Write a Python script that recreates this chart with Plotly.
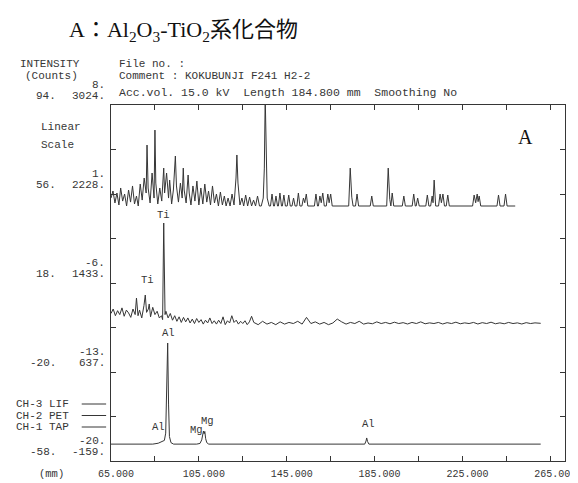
import plotly.graph_objects as go

# ------------------------------------------------------------------ data
# x: spectrometer position (mm), y: intensity on the common plotted count scale
LIF_TRACE = [  # CH-3 LIF (top)
    (65.0, 2192), (65.9, 2255), (66.8, 2148), (67.7, 2237), (68.6, 2130), (69.4, 2282),
    (70.3, 2165), (71.2, 2228), (72.1, 2121), (73.0, 2264), (73.9, 2156), (74.8, 2300),
    (75.7, 2139), (76.6, 2210), (77.4, 2121), (78.3, 2317), (79.2, 2174), (80.1, 2371),
    (81.0, 2237), (81.4, 2666), (81.9, 2282), (82.8, 2148), (83.7, 2416), (84.6, 2192),
    (85.0, 2800), (85.4, 2326), (86.3, 2139), (87.2, 2282), (88.1, 2165), (89.0, 2460),
    (89.4, 2237), (90.3, 2416), (91.2, 2192), (91.7, 2353), (92.6, 2139), (93.4, 2264),
    (94.3, 2568), (94.8, 2300), (95.7, 2156), (96.6, 2326), (97.4, 2192), (97.9, 2460),
    (98.3, 2264), (99.2, 2148), (100.1, 2398), (100.6, 2237), (101.4, 2130), (102.3, 2300),
    (103.2, 2165), (104.1, 2344), (105.0, 2130), (105.9, 2282), (106.8, 2139), (107.7, 2317),
    (108.6, 2156), (109.4, 2255), (110.3, 2130), (111.2, 2300), (112.1, 2148), (113.0, 2228),
    (113.9, 2121), (114.8, 2246), (115.7, 2130), (116.6, 2210), (117.4, 2121), (118.3, 2192),
    (119.2, 2121), (120.1, 2228), (121.0, 2130), (121.9, 2371), (122.3, 2577), (122.8, 2326),
    (123.7, 2130), (124.6, 2192), (125.4, 2121), (126.3, 2219), (127.2, 2121), (128.1, 2201),
    (129.0, 2121), (129.9, 2174), (130.8, 2121), (131.7, 2210), (132.6, 2121), (133.4, 2121),
    (134.3, 2192), (134.8, 2460), (135.2, 3100), (135.7, 2460), (136.1, 2192), (137.0, 2121),
    (137.6, 2121), (138.3, 2228), (139.0, 2121), (139.4, 2121), (140.1, 2210), (140.8, 2121),
    (141.2, 2121), (141.9, 2237), (142.6, 2121), (143.0, 2121), (143.7, 2219), (144.4, 2121),
    (145.2, 2121), (145.9, 2219), (146.6, 2121), (147.4, 2121), (148.1, 2192), (148.8, 2121),
    (149.6, 2121), (150.3, 2237), (151.0, 2121), (151.9, 2121), (152.6, 2192), (153.2, 2150),
    (153.9, 2228), (154.6, 2121), (157.6, 2121), (158.3, 2228), (159.0, 2121), (159.4, 2121),
    (160.1, 2210), (160.7, 2150), (161.4, 2237), (162.1, 2121), (163.0, 2121), (163.7, 2228),
    (164.3, 2150), (165.0, 2228), (165.7, 2121), (173.2, 2121), (173.9, 2460), (174.6, 2200),
    (175.2, 2121), (176.3, 2121), (177.0, 2228), (177.7, 2121), (183.0, 2121), (183.7, 2210),
    (184.4, 2121), (190.5, 2121), (191.2, 2460), (191.9, 2180), (192.4, 2121), (193.0, 2237),
    (193.7, 2121), (197.6, 2121), (198.3, 2210), (199.0, 2121), (202.1, 2121), (202.8, 2228),
    (203.5, 2121), (203.9, 2121), (204.6, 2192), (205.3, 2121), (208.3, 2121), (209.0, 2219),
    (209.7, 2121), (210.5, 2121), (211.2, 2210), (211.6, 2150), (212.1, 2353), (212.8, 2121),
    (214.1, 2121), (214.8, 2228), (215.4, 2150), (216.1, 2228), (216.8, 2121), (217.6, 2121),
    (218.3, 2219), (219.0, 2121), (229.6, 2121), (230.3, 2219), (231.0, 2150), (231.7, 2228),
    (232.1, 2160), (232.6, 2210), (233.3, 2121), (240.7, 2121), (241.4, 2219), (242.1, 2121),
    (243.9, 2121), (244.6, 2228), (245.3, 2121), (249.0, 2121),
]

PET_TRACE = [  # CH-2 PET (middle)
    (65, 1160), (66, 1200), (67, 1140), (68, 1185), (69, 1150), (70, 1210), (71, 1135),
    (72, 1190), (73, 1165), (74, 1125), (75, 1200), (76, 1150), (76.6, 1298), (77.3, 1140),
    (78, 1190), (79, 1120), (80, 1230), (80.6, 1325), (81.2, 1170), (82, 1200), (82.4, 1245),
    (83, 1130), (84, 1215), (85, 1150), (86, 1180), (87, 1120), (88, 1140), (88.5, 1105),
    (89.0, 1969), (89.6, 1150), (90, 1180), (91, 1120), (92, 1160), (93, 1100), (94, 1140),
    (95, 1090), (96, 1130), (97, 1080), (98, 1125), (99, 1085), (100, 1120), (101, 1075),
    (102, 1110), (103, 1070), (104, 1115), (105, 1080), (106, 1105), (107, 1065), (108, 1100),
    (109, 1075), (110, 1120), (111, 1070), (112, 1095), (113, 1065), (114, 1100), (115, 1070),
    (116, 1130), (117, 1060), (118, 1095), (119, 1075), (120, 1140), (121, 1080), (122, 1100),
    (123, 1065), (124, 1090), (125, 1070), (126, 1095), (127, 1060), (128, 1085), (129, 1135),
    (130, 1080), (132, 1060), (134, 1090), (136, 1065), (138, 1080), (140, 1060), (142, 1085),
    (144, 1065), (146, 1080), (148, 1070), (150, 1090), (152, 1065), (154, 1125), (156, 1070),
    (158, 1085), (160, 1065), (162, 1080), (164, 1060), (166, 1075), (168, 1110), (170, 1085),
    (172, 1065), (174, 1080), (176, 1070), (178, 1090), (180, 1065), (182, 1075), (184, 1068),
    (186, 1085), (188, 1070), (190, 1080), (192, 1068), (194, 1082), (196, 1070), (198, 1078),
    (200, 1066), (202, 1080), (204, 1070), (206, 1085), (208, 1068), (210, 1076), (212, 1070),
    (214, 1080), (216, 1066), (218, 1078), (220, 1070), (222, 1082), (224, 1068), (226, 1076),
    (228, 1070), (230, 1080), (232, 1066), (234, 1078), (236, 1070), (238, 1082), (240, 1068),
    (242, 1076), (244, 1068), (246, 1080), (248, 1070), (250, 1076), (252, 1066), (254, 1078),
    (256, 1070), (258, 1076), (260, 1070), (260.6, 1072),
]

TAP_TRACE = [  # CH-1 TAP (bottom)
    (65.0, -8), (75.0, -8), (84.0, -8), (86.5, 0), (87.8, 12), (88.6, 20), (89.3, 25),
    (89.9, 90), (90.3, 400), (90.8, 896), (91.2, 350), (91.6, 60), (92.3, 5), (93.5, -8),
    (104.0, -8), (105.5, -2), (106.3, 30), (106.8, 80), (107.1, 109), (107.4, 85),
    (107.7, 105), (108.1, 40), (108.6, 5), (109.5, -8), (180.5, -8), (181.1, 20),
    (181.4, 47), (181.8, 15), (182.4, -8), (260.6, -8),
]

PEAK_NAMES = ["Ti", "Ti", "Al", "Al", "Mg", "Mg", "Al"]
PEAK_LABEL_MM = [81.4, 89.0, 91.2, 86.8, 104.1, 109.0, 182.3]
PEAK_LABEL_CPS = [1459, 2040, 985, 145, 118, 199, 172]

X_TICK_VALS = [65, 105, 145, 185, 225, 265]
X_TICK_TEXT = ["65.000", "105.000", "145.000", "185.000", "225.000", "265.000"]
Y_BOTTOM, Y_TOP = -159, 3024
Y_LABEL_VALS = [3024, 2228.25, 1432.5, 636.75, -159]
Y_COL_RIGHT = ["3024.", "2228.", "1433.", "637.", "-159."]
Y_COL_MID = ["94.", "56.", "18.", "-20.", "-58."]
Y_COL_TOP = ["8.", "1.", "-6.", "-13.", "-20."]
CHANNELS = ["CH-3 LIF", "CH-2 PET", "CH-1 TAP"]

# ------------------------------------------------------------------ figure
L, R, T, B = 103, 568, 97, 453


def xp(px):
    return (px - L) / (R - L)


def yp(py):
    return (B - py) / (B - T)


MONO = "Liberation Mono, DejaVu Sans Mono, monospace"
SERIF = "Liberation Serif, Noto Sans CJK JP, serif"
INK = "#363636"

fig = go.Figure()
for pts in (LIF_TRACE, PET_TRACE, TAP_TRACE):
    fig.add_trace(go.Scatter(
        x=[p[0] for p in pts], y=[p[1] for p in pts], mode="lines",
        line=dict(color=INK, width=1), hoverinfo="skip", showlegend=False))

x_span = (R - L) / 2.25  # mm shown across the frame
fig.update_layout(
    width=578, height=483,
    margin=dict(l=L, r=578 - R, t=T, b=483 - B),
    paper_bgcolor="white", plot_bgcolor="white", showlegend=False,
    xaxis=dict(
        range=[65, 65 + x_span], showgrid=False, zeroline=False,
        showline=True, linecolor=INK, linewidth=1.2, mirror="allticks",
        tickmode="array", tickvals=X_TICK_VALS, ticktext=X_TICK_TEXT,
        ticks="inside", ticklen=5, tickcolor=INK, ticklabelstandoff=3,
        ticklabelshift=5, ticklabeloverflow="allow",
        tickfont=dict(family=MONO, size=10, color=INK),
        minor=dict(tick0=65, dtick=20, ticks="inside", ticklen=5, tickcolor=INK),
    ),
    yaxis=dict(
        range=[Y_BOTTOM, Y_TOP], showgrid=False, zeroline=False,
        showline=True, linecolor=INK, linewidth=1.2, mirror="allticks",
        tick0=Y_BOTTOM, dtick=(Y_TOP - Y_BOTTOM) / 8,
        ticks="inside", ticklen=5, tickcolor=INK, showticklabels=False,
    ),
)

ann = []


def text(x, y, s, anchor="left", size=11, font=MONO, color=INK, xref="paper", yref="paper", yshift=0):
    ann.append(dict(x=x, y=y, xref=xref, yref=yref, text=s, showarrow=False,
                    xanchor=anchor, yanchor="middle", yshift=yshift, borderpad=0,
                    font=dict(family=font, size=size, color=color)))


# title
text(xp(177), yp(23), "A：Al<sub>2</sub>O<sub>3</sub>-TiO<sub>2</sub>系化合物",
     anchor="center", size=22, font=SERIF, color="#111")
text(xp(528), yp(129), "A", anchor="center", size=20, font=SERIF, color="#111")

# header
text(xp(41), yp(56), "INTENSITY", anchor="center")
text(xp(42), yp(68), "(Counts)", anchor="center")
text(xp(110), yp(56), "File no. :")
text(xp(110), yp(68), "Comment : KOKUBUNJI F241 H2-2")
text(xp(110), yp(84), "Acc.vol. 15.0 kV  Length 184.800 mm  Smoothing No", size=11.5)
text(xp(30), yp(119), "Linear")
text(xp(30), yp(137), "Scale")

# y labels
for v, a, b, c in zip(Y_LABEL_VALS, Y_COL_TOP, Y_COL_MID, Y_COL_RIGHT):
    text(xp(98), v, c, anchor="right", yref="y", yshift=9, size=11)
    text(xp(48), v, b, anchor="right", yref="y", yshift=9, size=11)
    text(xp(98), v, a, anchor="right", yref="y", yshift=20, size=11)

# x unit
text(xp(42), yp(466), "(mm)", anchor="center", size=10.5)

# channel legend
for i, ch in enumerate(CHANNELS):
    yy = 396 + 11.5 * i
    text(xp(5), yp(yy), ch, size=11)
    fig.add_shape(type="line", xref="paper", yref="paper",
                  x0=xp(73), x1=xp(98), y0=yp(yy), y1=yp(yy),
                  line=dict(color=INK, width=1))

# peak labels
for nm, mx, cy in zip(PEAK_NAMES, PEAK_LABEL_MM, PEAK_LABEL_CPS):
    text(mx, cy, nm, anchor="center", xref="x", yref="y", size=10.5)

fig.update_layout(annotations=ann)
fig.write_html("out.html")
